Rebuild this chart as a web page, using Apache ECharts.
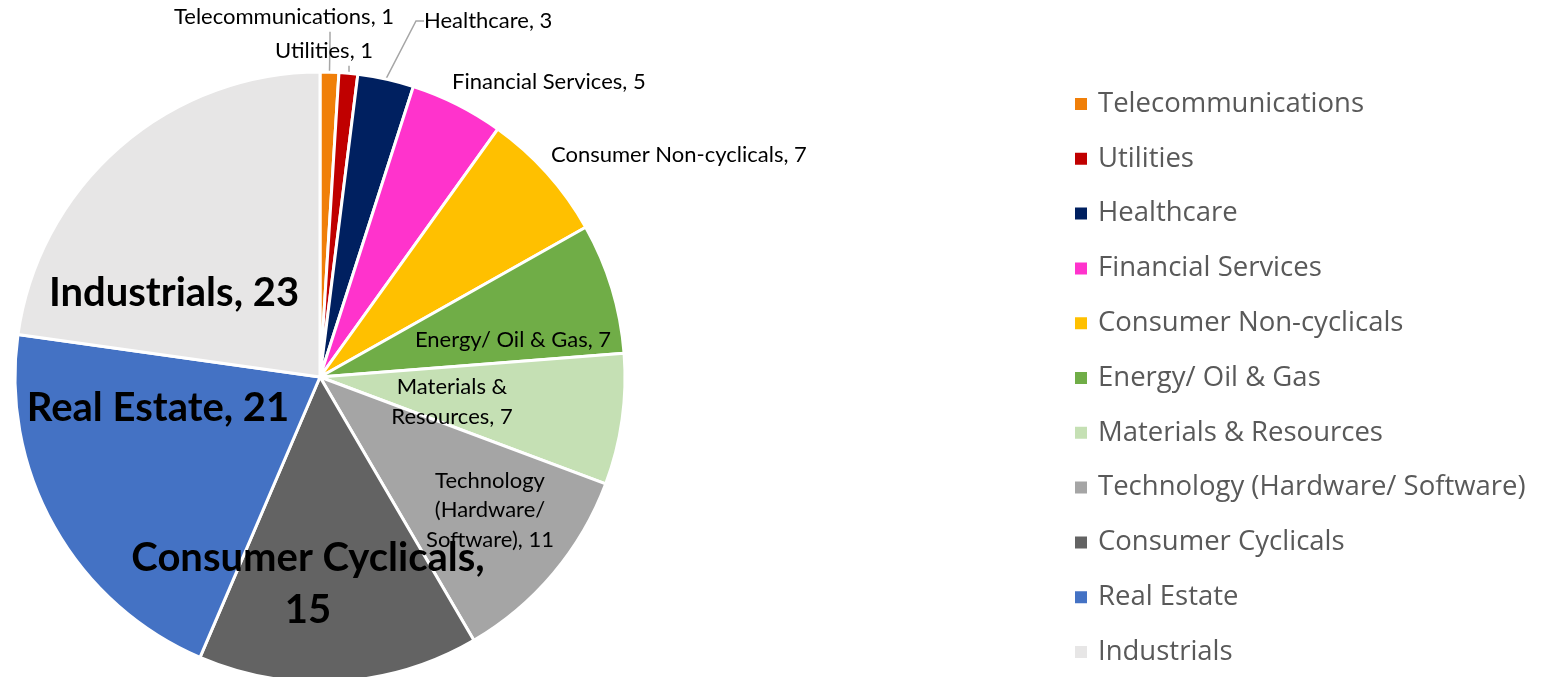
<!DOCTYPE html>
<html>
<head>
<meta charset="utf-8">
<script src="https://cdn.jsdelivr.net/npm/echarts@6/dist/echarts.min.js"></script>
<style>
html,body{margin:0;padding:0;background:#fff;}
#main{width:1558px;height:677px;}
</style>
</head>
<body>
<div id="main"></div>
<script>
// sectors, clockwise from 12 o'clock
const sectors = ['Telecommunications', 'Utilities', 'Healthcare', 'Financial Services', 'Consumer Non-cyclicals',
  'Energy/ Oil & Gas', 'Materials & Resources', 'Technology (Hardware/ Software)', 'Consumer Cyclicals', 'Real Estate', 'Industrials'];
const counts = [1, 1, 3, 5, 7, 7, 7, 11, 15, 21, 23];
const colors = ['#F07F09', '#C00000', '#002060', '#FF33CC', '#FFC000', '#70AD47', '#C5E0B4', '#A5A5A5', '#636363', '#4472C4', '#E7E6E6'];
// label text as shown on the chart
const labelText = ['Telecommunications, 1', 'Utilities, 1', 'Healthcare, 3', 'Financial Services, 5', 'Consumer Non-cyclicals, 7',
  'Energy/ Oil & Gas, 7', 'Materials &\nResources, 7', 'Technology\n(Hardware/\nSoftware), 11', 'Consumer Cyclicals,\n15', 'Real Estate, 21', 'Industrials, 23'];

// where each label sits [x, y, align, extra right padding so the leader line drops straight down]
const labelPos = [
  [330, 17, 'center', 92], [349, 51, 'center', 50], [424, 21, 'left', 0], [452, 82, 'left', 0], [551, 155, 'left', 0],
  [513, 340, 'center', 0], [452, 402, 'center', 0], [490, 510, 'center', 0], [308, 584, 'center', 0], [158, 408, 'center', 0], [174, 293, 'center', 0]
];
const bigOnes = [8, 9, 10];
const withLine = [0, 1, 2];

const font = 'Lato, "Liberation Sans", sans-serif';

const myChart = echarts.init(document.getElementById('main'));

const data = sectors.map((s, i) => {
  const big = bigOnes.indexOf(i) >= 0;
  return {
    name: s,
    value: counts[i],
    itemStyle: { color: colors[i] },
    label: {
      show: true,
      formatter: labelText[i],
      fontFamily: font,
      fontSize: big ? 40 : 22,
      fontWeight: big ? 'bold' : 'normal',
      lineHeight: big ? 52 : 29.5,
      color: '#000',
      padding: [0, labelPos[i][3], 0, 0],
      position: i < 5 ? 'outside' : 'inside'
    },
    labelLine: {
      show: withLine.indexOf(i) >= 0,
      length: 8,
      length2: 8,
      lineStyle: { color: '#A6A6A6', width: 1.5 }
    }
  };
});

const option = {
  animation: false,
  legend: {
    orient: 'vertical',
    left: 1068,
    top: 84,
    height: 640,
    icon: 'rect',
    itemWidth: 14,
    itemHeight: 14,
    itemGap: 24.8,
    textStyle: { fontFamily: '"Open Sans", sans-serif', fontSize: 27.5, color: '#595959', lineHeight: 30, padding: [0, 0, 0, 5] },
    data: sectors
  },
  series: [{
    type: 'pie',
    center: [320, 377],
    radius: 305,
    startAngle: 90,
    clockwise: true,
    avoidLabelOverlap: false,
    itemStyle: { borderColor: '#fff', borderWidth: 3 },
    labelLayout: function (p) {
      const lp = labelPos[p.dataIndex];
      return { x: lp[0], y: lp[1], align: lp[2], verticalAlign: 'middle' };
    },
    data: data
  }]
};

myChart.setOption(option);
</script>
</body>
</html>
